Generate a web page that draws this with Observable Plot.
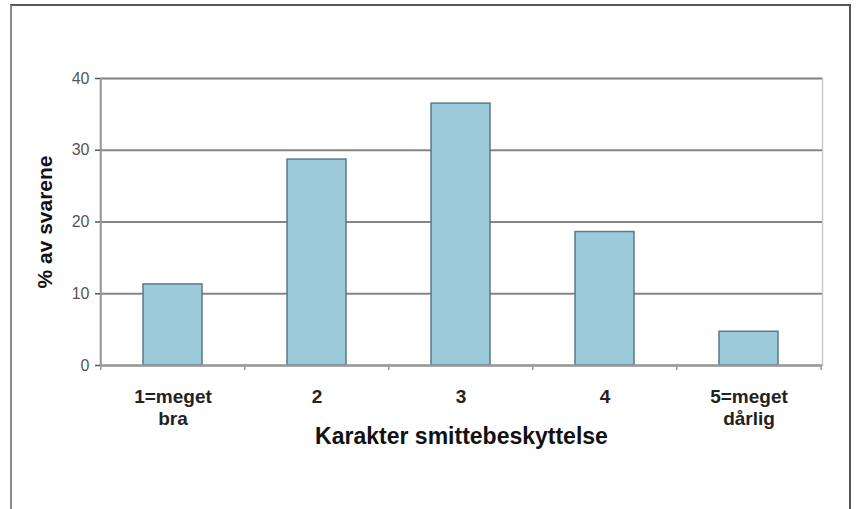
<!DOCTYPE html>
<html>
<head>
<meta charset="utf-8">
<script src="https://cdn.jsdelivr.net/npm/d3@7"></script>
<script src="https://cdn.jsdelivr.net/npm/@observablehq/plot@0.6"></script>
<style>
  html, body { margin: 0; padding: 0; background: #ffffff; }
  #wrap { position: relative; width: 856px; height: 509px; overflow: hidden; font-family: "Liberation Sans", Arial, sans-serif; }
  #border { position: absolute; left: 10px; top: 4px; width: 841px; height: 530px;
            border-style: solid; border-width: 2px; border-color: #555 #555 transparent #8a8a8a; box-sizing: border-box; }
  #chart { position: absolute; left: 0; top: 0; }
</style>
</head>
<body>
<div id="wrap"><div id="border"></div><div id="chart"></div></div>
<script>
const categories = ["1=meget\nbra", "2", "3", "4", "5=meget\ndårlig"];
const values = [11.3, 28.7, 36.5, 18.6, 4.7];
const yTicks = [0, 10, 20, 30, 40];
const yTitle = "% av svarene";
const xTitle = "Karakter smittebeskyttelse";

const data = categories.map((c, i) => ({c, v: values[i]}));

const W = 856, H = 509, mL = 100, mR = 34, mT = 78, mB = 144;
const step = (W - mL - mR) / categories.length;
const pad = 0.59;

const chart = Plot.plot({
  width: W, height: H,
  marginLeft: mL, marginRight: mR, marginTop: mT, marginBottom: mB,
  style: {fontFamily: "'Liberation Sans', Arial, sans-serif", background: "transparent", overflow: "visible"},
  x: {domain: categories, paddingInner: pad, paddingOuter: pad / 2, label: null},
  y: {domain: [0, 40], ticks: yTicks, label: null},
  marks: [
    Plot.frame({stroke: "#c8c8c8", strokeWidth: 1.5}),
    Plot.ruleY(yTicks, {stroke: "#858585", strokeWidth: 2}),
    Plot.barY(data, {x: "c", y: "v", fill: "#9dcadb", stroke: "#5a7a86", strokeWidth: 1.5}),
    Plot.ruleX([categories[0]], {dx: -step / 2, y1: 0, y2: 40, stroke: "#999", strokeWidth: 2}),
    Plot.ruleY([0], {stroke: "#999", strokeWidth: 2}),
    Plot.axisY({ticks: yTicks, tickSize: 5, tickPadding: 6, fontSize: 16, label: null, color: "#555", strokeWidth: 1.5}),
    Plot.axisX({ticks: categories, tickSize: 5, dx: -step / 2, tickFormat: () => "", label: null, stroke: "#999", strokeWidth: 1.5}),
    Plot.axisX({ticks: [categories[categories.length - 1]], tickSize: 5, dx: step / 2, tickFormat: () => "", label: null, stroke: "#999", strokeWidth: 1.5}),
    Plot.axisX({ticks: categories, tickSize: 0, tickPadding: 21, fontSize: 19, fontWeight: "bold", lineHeight: 1.2, label: null, fill: "#222"}),
    Plot.text([yTitle], {frameAnchor: "left", rotate: -90, dx: -55, textAnchor: "middle", lineAnchor: "middle", fontSize: 21, fontWeight: "bold", fill: "#111"}),
    Plot.text([xTitle], {frameAnchor: "bottom", dy: 71, textAnchor: "middle", lineAnchor: "middle", fontSize: 23, fontWeight: "bold", fill: "#111"})
  ]
});
document.getElementById("chart").appendChild(chart);
</script>
</body>
</html>
